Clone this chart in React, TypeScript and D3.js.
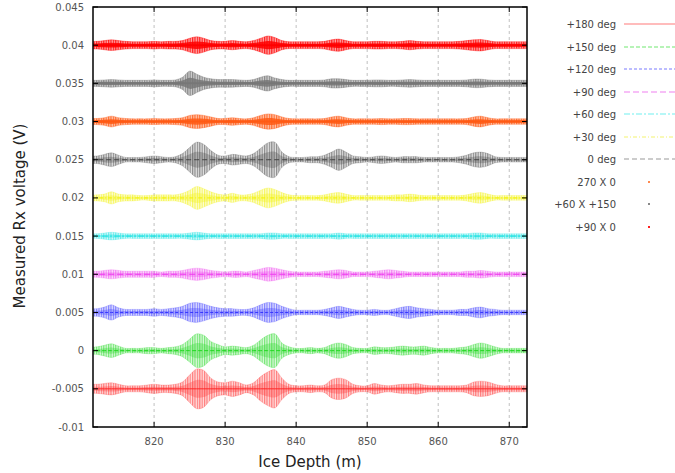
import React from "react";
import * as d3 from "d3";

// Depth grid (m): 811 .. 873, 1 m step
const DEPTH_START = 811;

// Envelope half-amplitudes (mV), one per metre from 811 to 873
const ampP180 = [0.6, 0.6, 0.7, 0.8, 0.6, 0.4, 0.4, 0.4, 0.5, 0.6, 0.5, 0.5, 0.6, 0.9, 1.8, 2.6, 2.4, 1.4, 0.9, 0.8, 1.0, 0.8, 0.5, 0.8, 1.6, 2.2, 2.5, 1.4, 0.6, 0.4, 0.4, 0.5, 0.4, 0.5, 1.2, 1.4, 1.2, 0.6, 0.4, 0.4, 0.7, 0.5, 0.4, 0.5, 0.6, 0.6, 0.7, 0.5, 0.4, 0.4, 0.4, 0.4, 0.4, 0.5, 0.9, 1.0, 0.9, 0.6, 0.4, 0.4, 0.4, 0.4, 0.4];
const ampP150 = [0.5, 0.5, 0.7, 0.9, 0.6, 0.3, 0.3, 0.3, 0.4, 0.4, 0.3, 0.4, 0.5, 0.8, 1.5, 2.2, 2.0, 1.2, 0.8, 0.5, 0.6, 0.5, 0.4, 0.7, 1.4, 2.0, 2.2, 1.0, 0.5, 0.3, 0.3, 0.4, 0.3, 0.4, 0.8, 1.0, 0.8, 0.4, 0.3, 0.3, 0.5, 0.4, 0.4, 0.5, 0.6, 0.5, 0.5, 0.6, 0.4, 0.3, 0.3, 0.3, 0.4, 0.5, 0.8, 1.0, 0.8, 0.5, 0.3, 0.3, 0.3, 0.3, 0.3];
const ampP120 = [0.5, 0.5, 0.7, 1.0, 0.6, 0.4, 0.4, 0.4, 0.4, 0.5, 0.4, 0.5, 0.6, 0.8, 1.2, 1.3, 1.1, 0.8, 0.6, 0.5, 0.5, 0.4, 0.4, 0.6, 1.0, 1.3, 1.2, 0.8, 0.5, 0.3, 0.3, 0.3, 0.3, 0.4, 0.6, 0.8, 0.6, 0.4, 0.3, 0.3, 0.4, 0.3, 0.3, 0.5, 0.7, 0.8, 0.6, 0.5, 0.4, 0.3, 0.3, 0.3, 0.4, 0.4, 0.6, 0.7, 0.5, 0.4, 0.3, 0.3, 0.3, 0.3, 0.3];
const ampP90 = [0.4, 0.4, 0.5, 0.6, 0.5, 0.4, 0.4, 0.4, 0.4, 0.4, 0.3, 0.4, 0.4, 0.5, 0.7, 0.8, 0.7, 0.5, 0.4, 0.3, 0.4, 0.4, 0.3, 0.5, 0.7, 0.9, 0.8, 0.6, 0.4, 0.3, 0.3, 0.3, 0.3, 0.4, 0.5, 0.6, 0.5, 0.3, 0.3, 0.3, 0.4, 0.5, 0.6, 0.5, 0.4, 0.3, 0.3, 0.3, 0.3, 0.3, 0.3, 0.3, 0.3, 0.4, 0.4, 0.5, 0.4, 0.3, 0.3, 0.3, 0.3, 0.3, 0.3];
const ampP60 = [0.3, 0.3, 0.4, 0.5, 0.4, 0.3, 0.3, 0.3, 0.3, 0.3, 0.3, 0.3, 0.3, 0.3, 0.4, 0.5, 0.4, 0.3, 0.3, 0.3, 0.3, 0.3, 0.3, 0.3, 0.3, 0.4, 0.4, 0.3, 0.3, 0.3, 0.3, 0.3, 0.3, 0.3, 0.3, 0.4, 0.3, 0.3, 0.3, 0.3, 0.3, 0.3, 0.3, 0.3, 0.3, 0.3, 0.3, 0.3, 0.3, 0.3, 0.3, 0.3, 0.3, 0.3, 0.4, 0.4, 0.3, 0.3, 0.3, 0.3, 0.3, 0.3, 0.3];
const ampP30 = [0.4, 0.4, 0.5, 0.8, 0.5, 0.4, 0.4, 0.3, 0.3, 0.4, 0.4, 0.4, 0.4, 0.6, 1.0, 1.5, 1.2, 0.8, 0.5, 0.4, 0.6, 0.4, 0.4, 0.6, 1.0, 1.3, 1.1, 0.7, 0.4, 0.3, 0.3, 0.3, 0.3, 0.4, 0.6, 0.7, 0.5, 0.3, 0.3, 0.3, 0.3, 0.3, 0.3, 0.4, 0.4, 0.5, 0.4, 0.3, 0.3, 0.3, 0.3, 0.3, 0.3, 0.4, 0.6, 0.7, 0.5, 0.3, 0.3, 0.3, 0.3, 0.3, 0.3];
const ampP0 = [0.5, 0.5, 0.7, 0.9, 0.6, 0.3, 0.3, 0.3, 0.4, 0.5, 0.4, 0.3, 0.4, 0.8, 1.6, 2.3, 2.0, 1.2, 0.6, 0.5, 0.7, 0.6, 0.5, 0.8, 1.5, 2.2, 2.3, 1.0, 0.4, 0.3, 0.3, 0.4, 0.4, 0.6, 1.0, 1.4, 1.0, 0.5, 0.4, 0.3, 0.4, 0.5, 0.4, 0.3, 0.4, 0.4, 0.4, 0.3, 0.3, 0.3, 0.3, 0.3, 0.4, 0.6, 0.9, 1.0, 0.8, 0.4, 0.3, 0.3, 0.3, 0.3, 0.3];
const ampX270 = [0.4, 0.4, 0.5, 0.7, 0.5, 0.4, 0.35, 0.35, 0.35, 0.4, 0.35, 0.35, 0.4, 0.5, 0.8, 0.9, 0.8, 0.6, 0.4, 0.4, 0.5, 0.4, 0.35, 0.5, 0.8, 1.0, 0.9, 0.6, 0.4, 0.35, 0.35, 0.35, 0.35, 0.4, 0.6, 0.7, 0.5, 0.35, 0.35, 0.35, 0.35, 0.4, 0.35, 0.35, 0.4, 0.4, 0.35, 0.35, 0.35, 0.35, 0.35, 0.35, 0.35, 0.4, 0.6, 0.7, 0.5, 0.35, 0.35, 0.35, 0.35, 0.35, 0.35];
const ampX60 = [0.4, 0.4, 0.45, 0.5, 0.45, 0.4, 0.4, 0.4, 0.4, 0.45, 0.4, 0.4, 0.45, 0.8, 1.6, 1.2, 0.8, 0.6, 0.5, 0.5, 0.5, 0.45, 0.4, 0.5, 0.8, 1.0, 0.7, 0.5, 0.4, 0.4, 0.4, 0.4, 0.4, 0.45, 0.6, 0.6, 0.5, 0.4, 0.4, 0.4, 0.45, 0.45, 0.4, 0.4, 0.45, 0.5, 0.45, 0.4, 0.4, 0.4, 0.4, 0.4, 0.4, 0.45, 0.55, 0.55, 0.45, 0.4, 0.4, 0.4, 0.4, 0.4, 0.4];
const ampX90 = [0.5, 0.5, 0.6, 0.7, 0.6, 0.5, 0.45, 0.45, 0.45, 0.5, 0.45, 0.5, 0.5, 0.6, 0.9, 1.1, 0.9, 0.6, 0.5, 0.5, 0.6, 0.5, 0.45, 0.6, 0.9, 1.2, 1.0, 0.6, 0.45, 0.45, 0.45, 0.45, 0.45, 0.5, 0.7, 0.8, 0.6, 0.45, 0.45, 0.45, 0.5, 0.5, 0.45, 0.45, 0.5, 0.6, 0.5, 0.45, 0.45, 0.45, 0.45, 0.45, 0.5, 0.6, 0.7, 0.75, 0.6, 0.45, 0.45, 0.45, 0.45, 0.45, 0.45];

// Series: legend label, vertical offset (V)
const seriesLabels = ["+180 deg", "+150 deg", "+120 deg", "+90 deg", "+60 deg", "+30 deg", "0 deg", "270 X 0", "+60 X +150", "+90 X 0"];
const seriesOffsets = [-0.005, 0, 0.005, 0.01, 0.015, 0.02, 0.025, 0.03, 0.035, 0.04];
const seriesAmps = [ampP180, ampP150, ampP120, ampP90, ampP60, ampP30, ampP0, ampX270, ampX60, ampX90];

const xTicks = [820, 830, 840, 850, 860, 870];
const yTicks = [-0.01, -0.005, 0, 0.005, 0.01, 0.015, 0.02, 0.025, 0.03, 0.035, 0.04, 0.045];
const yTickLabels = ["-0.01", "-0.005", "0", "0.005", "0.01", "0.015", "0.02", "0.025", "0.03", "0.035", "0.04", "0.045"];

const STYLES = [
  { color: "#ff2a2a", legend: "#ff7a7a", dash: "", points: false },
  { color: "#22d822", legend: "#70e870", dash: "4,2", points: false },
  { color: "#3535ff", legend: "#7a7aff", dash: "3,2", points: false },
  { color: "#ee3cee", legend: "#f080f0", dash: "6,3", points: false },
  { color: "#10e0e0", legend: "#70f0f0", dash: "6,2,2,2", points: false },
  { color: "#f2f200", legend: "#f4f470", dash: "4,2,1,2", points: false },
  { color: "#444444", legend: "#999999", dash: "5,3", points: false },
  { color: "#ff5a14", legend: "#ff8a50", dash: "", points: true },
  { color: "#777777", legend: "#888888", dash: "", points: true },
  { color: "#ff0000", legend: "#ff2020", dash: "", points: true },
];

const W = 675, H = 473;
const M = { left: 93, right: 527, top: 7, bottom: 427 };
const FONT = "'DejaVu Sans', 'Liberation Sans', sans-serif";

export default function App() {
  const x = d3.scaleLinear().domain([811.4, 872.5]).range([M.left, M.right]);
  const y = d3.scaleLinear().domain([-0.01, 0.045]).range([M.bottom, M.top]);

  const traces = seriesAmps.map((amps, si) => {
    const off = seriesOffsets[si];
    const pts = amps.map((a, i) => ({ d: DEPTH_START + i, a: a * 0.001 }));
    const areaOuter = d3
      .area<any>()
      .x((p) => x(p.d))
      .y0((p) => y(off - p.a))
      .y1((p) => y(off + p.a))
      .curve(d3.curveCatmullRom);
    const areaInner = d3
      .area<any>()
      .x((p) => x(p.d))
      .y0((p) => y(off - p.a * 0.45))
      .y1((p) => y(off + p.a * 0.45))
      .curve(d3.curveCatmullRom);
    const center = d3.line<any>().x((p) => x(p.d)).y(() => y(off));
    return { outer: areaOuter(pts), inner: areaInner(pts), center: center(pts), si };
  });

  const legendX = 616;
  const legendY0 = 24;
  const legendStep = 22.5;

  return (
    <svg width={W} height={H} style={{ position: "absolute", left: 0, top: 0, background: "#fff" }} fontFamily={FONT}>
      <defs>
        <clipPath id="plotclip">
          <rect x={M.left} y={M.top} width={M.right - M.left} height={M.bottom - M.top} />
        </clipPath>
        {STYLES.map((st, i) => (
          <pattern key={"p" + i} id={"stripe" + i} width={2.4} height={3} patternUnits="userSpaceOnUse">
            <rect x={0} y={0} width={1.2} height={3} fill={st.color} />
          </pattern>
        ))}
      </defs>
      {/* vertical grid */}
      {xTicks.map((t) => (
        <line key={"g" + t} x1={x(t)} x2={x(t)} y1={M.top} y2={M.bottom} stroke="#b0b0b0" strokeWidth={0.8} strokeDasharray="3,3" />
      ))}
      {/* traces */}
      <g clipPath="url(#plotclip)">
        {traces.map((t) => {
          const st = STYLES[t.si];
          return (
            <g key={"t" + t.si}>
              <path d={t.outer || ""} fill={st.color} fillOpacity={st.points ? 0.35 : 0.15} stroke="none" />
              <path d={t.outer || ""} fill={`url(#stripe${t.si})`} fillOpacity={st.points ? 0.8 : 0.55} stroke={st.color} strokeOpacity={st.points ? 0.5 : 0.3} strokeWidth={0.7} />
              <path d={t.inner || ""} fill={st.color} fillOpacity={st.points ? 0.85 : 0.3} stroke="none" />
              <path d={t.center || ""} fill="none" stroke={st.color} strokeWidth={st.points ? 2 : 1} strokeDasharray={st.dash} />
            </g>
          );
        })}
      </g>
      {/* ticks */}
      {xTicks.map((t) => (
        <g key={"xt" + t}>
          <line x1={x(t)} x2={x(t)} y1={M.bottom} y2={M.bottom - 5} stroke="#000" strokeWidth={1} />
          <line x1={x(t)} x2={x(t)} y1={M.top} y2={M.top + 5} stroke="#000" strokeWidth={1} />
          <text x={x(t)} y={445} fontSize={10} fill="#555" textAnchor="middle">{t}</text>
        </g>
      ))}
      {yTicks.map((t, i) => (
        <g key={"yt" + i}>
          <line x1={M.left} x2={M.left + 5} y1={y(t)} y2={y(t)} stroke="#000" strokeWidth={1} />
          <line x1={M.right} x2={M.right - 5} y1={y(t)} y2={y(t)} stroke="#000" strokeWidth={1} />
          <text x={84} y={y(t) + 3.5} fontSize={10} fill="#555" textAnchor="end">{yTickLabels[i]}</text>
        </g>
      ))}
      {/* frame */}
      <rect x={M.left} y={M.top} width={M.right - M.left} height={M.bottom - M.top} fill="none" stroke="#000" strokeWidth={1.5} />
      {/* axis titles */}
      <text x={310} y={467} fontSize={15} fill="#222" textAnchor="middle">Ice Depth (m)</text>
      <text transform="translate(25,216) rotate(-90)" fontSize={15} fill="#222" textAnchor="middle">Measured Rx voltage (V)</text>
      {/* legend */}
      {seriesLabels.map((lab, i) => {
        const st = STYLES[i];
        const ly = Math.round(legendY0 + i * legendStep);
        return (
          <g key={"lg" + i}>
            <text x={legendX} y={ly + 3.5} fontSize={10} fill="#444" textAnchor="end">{lab}</text>
            {st.points ? (
              <rect x={648} y={ly - 1} width={2} height={2} fill={st.legend} />
            ) : (
              <line x1={624} x2={675} y1={ly} y2={ly} stroke={st.legend} strokeWidth={1.2} strokeDasharray={st.dash} />
            )}
          </g>
        );
      })}
    </svg>
  );
}
